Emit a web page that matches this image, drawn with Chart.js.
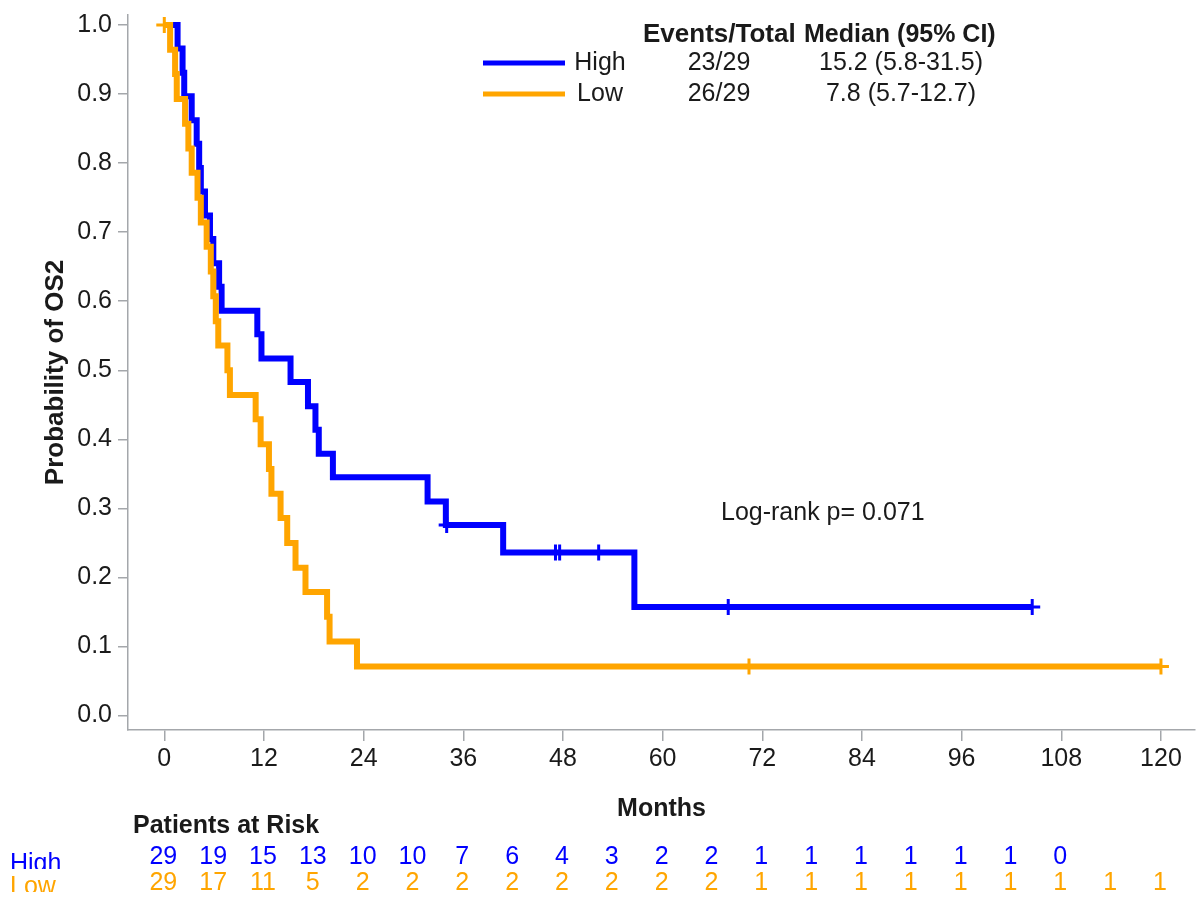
<!DOCTYPE html>
<html>
<head>
<meta charset="utf-8">
<title>Overall survival (OS2) by group</title>
<script src="https://cdn.jsdelivr.net/npm/chart.js@4.4.1/dist/chart.umd.min.js"></script>
<style>
  html, body { margin: 0; padding: 0; background: #ffffff; }
  #wrap { width: 1198px; height: 897px; position: relative; }
</style>
</head>
<body>
<div id="wrap"><canvas id="km"></canvas></div>
<script>
// Kaplan-Meier step points: time (months) and survival probability after each step
const highTimes = [0, 1.6, 2.2, 2.4, 3.3, 3.9, 4.2, 4.4, 4.9, 5.5, 5.9, 6.6, 6.9, 11.2, 11.7, 15.2, 17.3, 18.2, 18.6, 20.3, 31.7, 33.9, 40.8, 56.6, 104.5];
const highSurv  = [1.0, 0.966, 0.931, 0.897, 0.862, 0.828, 0.793, 0.759, 0.724, 0.690, 0.655, 0.621, 0.586, 0.552, 0.517, 0.483, 0.448, 0.414, 0.379, 0.345, 0.310, 0.276, 0.236, 0.157, 0.157];

const lowTimes = [0, 0.7, 1.3, 1.5, 2.5, 2.9, 3.3, 4.0, 4.4, 5.1, 5.6, 5.9, 6.2, 6.5, 7.6, 7.9, 11.0, 11.6, 12.6, 12.9, 14.0, 14.8, 15.8, 17.0, 19.6, 19.9, 23.2, 120.0];
const lowSurv  = [1.0, 0.964, 0.929, 0.893, 0.857, 0.821, 0.786, 0.750, 0.714, 0.679, 0.643, 0.607, 0.571, 0.536, 0.500, 0.464, 0.429, 0.393, 0.357, 0.321, 0.286, 0.250, 0.214, 0.179, 0.143, 0.107, 0.071, 0.071];

// Censored observations (+ marks)
const highCensorTimes = [34.0, 47.1, 47.6, 52.3, 67.9, 104.5];
const highCensorSurv  = [0.276, 0.236, 0.236, 0.236, 0.157, 0.157];
const lowCensorTimes  = [0, 70.4, 120.0];
const lowCensorSurv   = [1.0, 0.071, 0.071];

// Axis ticks
const xTicks = [0, 12, 24, 36, 48, 60, 72, 84, 96, 108, 120];
const yTicks = [0, 0.1, 0.2, 0.3, 0.4, 0.5, 0.6, 0.7, 0.8, 0.9, 1.0];

// Number at risk every 6 months
const riskTimes = [0, 6, 12, 18, 24, 30, 36, 42, 48, 54, 60, 66, 72, 78, 84, 90, 96, 102, 108, 114, 120];
const riskHigh  = [29, 19, 15, 13, 10, 10, 7, 6, 4, 3, 2, 2, 1, 1, 1, 1, 1, 1, 0];
const riskLow   = [29, 17, 11, 5, 2, 2, 2, 2, 2, 2, 2, 2, 1, 1, 1, 1, 1, 1, 1, 1, 1];

// Summary table
const groups      = ['High', 'Low'];
const eventsTotal = ['23/29', '26/29'];
const medians     = ['15.2 (5.8-31.5)', '7.8 (5.7-12.7)'];
const logRankText = 'Log-rank p= 0.071';

const FONT = "'Liberation Sans', Arial, Helvetica, sans-serif";
const BLUE = '#0000ff';
const ORANGE = '#ffa500';
const AXIS_GREY = '#a4a7ab';
const TEXT = '#1a1a1a';

const toPoints = (xs, ys) => xs.map((x, i) => ({ x: x, y: ys[i] }));

// Summary legend, log-rank note and number-at-risk table
const kmText = {
  id: 'kmText',
  afterDraw(chart) {
    const ctx = chart.ctx;
    const xs = chart.scales.x;
    ctx.save();
    ctx.textBaseline = 'middle';

    // legend header
    ctx.fillStyle = TEXT;
    ctx.font = `bold 26px ${FONT}`;
    ctx.textAlign = 'left';
    ctx.fillText('Events/Total', 643, 35);
    ctx.font = `bold 25px ${FONT}`;
    ctx.fillText('Median (95% CI)', 804, 35);

    const colors = [BLUE, ORANGE];
    const rowY = [63, 94];
    ctx.font = `25px ${FONT}`;
    for (let i = 0; i < groups.length; i++) {
      ctx.strokeStyle = colors[i];
      ctx.lineWidth = 5;
      ctx.beginPath();
      ctx.moveTo(483, rowY[i]);
      ctx.lineTo(565, rowY[i]);
      ctx.stroke();
      ctx.fillStyle = TEXT;
      ctx.textAlign = 'center';
      ctx.fillText(groups[i], 600, rowY[i]);
      ctx.fillText(eventsTotal[i], 719, rowY[i]);
      ctx.fillText(medians[i], 901, rowY[i]);
    }

    // log-rank p value
    ctx.textAlign = 'left';
    ctx.fillText(logRankText, 721, 513);

    // number at risk
    ctx.font = `bold 25px ${FONT}`;
    ctx.fillText('Patients at Risk', 133, 826);

    const riskRows = [riskHigh, riskLow];
    const numY = [857, 883];
    const labelBase = [871, 894];
    const clipBottom = [869, 892];
    for (let i = 0; i < riskRows.length; i++) {
      ctx.fillStyle = colors[i];
      ctx.font = `25px ${FONT}`;
      ctx.textAlign = 'center';
      ctx.textBaseline = 'middle';
      riskRows[i].forEach((n, j) => {
        ctx.fillText(String(n), xs.getPixelForValue(riskTimes[j]) - 1, numY[i]);
      });
      ctx.save();
      ctx.beginPath();
      ctx.rect(0, numY[i] - 20, 120, clipBottom[i] - (numY[i] - 20));
      ctx.clip();
      ctx.textAlign = 'left';
      ctx.textBaseline = 'alphabetic';
      ctx.fillText(groups[i], 10, labelBase[i]);
      ctx.restore();
    }
    ctx.restore();
  }
};

new Chart(document.getElementById('km'), {
  type: 'line',
  data: {
    datasets: [
      {
        label: 'Low',
        data: toPoints(lowTimes, lowSurv),
        stepped: 'before',
        borderColor: ORANGE,
        borderWidth: 6,
        borderJoinStyle: 'miter',
        borderCapStyle: 'butt',
        pointRadius: 0,
        fill: false,
        order: 1
      },
      {
        label: 'High',
        data: toPoints(highTimes, highSurv),
        stepped: 'before',
        borderColor: BLUE,
        borderWidth: 6,
        borderJoinStyle: 'miter',
        borderCapStyle: 'butt',
        pointRadius: 0,
        fill: false,
        order: 2
      },
      {
        label: 'Low censored',
        data: toPoints(lowCensorTimes, lowCensorSurv),
        showLine: false,
        pointStyle: 'cross',
        pointRadius: 8,
        pointBorderWidth: 3,
        pointBorderColor: ORANGE,
        borderColor: ORANGE,
        order: 0
      },
      {
        label: 'High censored',
        data: toPoints(highCensorTimes, highCensorSurv),
        showLine: false,
        pointStyle: 'cross',
        pointRadius: 8,
        pointBorderWidth: 3,
        pointBorderColor: BLUE,
        borderColor: BLUE,
        order: 0
      }
    ]
  },
  options: {
    responsive: true,
    maintainAspectRatio: false,
    devicePixelRatio: 1,
    animation: false,
    events: [],
    layout: { autoPadding: false, padding: { top: 15, right: 3, left: 0, bottom: 0 } },
    plugins: {
      legend: { display: false },
      tooltip: { enabled: false }
    },
    scales: {
      x: {
        type: 'linear',
        min: -4.37,
        max: 124.1,
        afterBuildTicks: (s) => { s.ticks = xTicks.map(v => ({ value: v })); },
        afterFit: (s) => { s.height = 167; s.paddingLeft = 0; s.paddingRight = 0; },
        ticks: {
          color: TEXT,
          font: { family: FONT, size: 25 },
          padding: 3,
          maxRotation: 0,
          autoSkip: false
        },
        grid: { drawOnChartArea: false, drawTicks: true, tickLength: 11, color: AXIS_GREY, lineWidth: 1.5 },
        border: { display: true, color: AXIS_GREY, width: 1.5 },
        title: {
          display: true,
          text: 'Months',
          color: TEXT,
          font: { family: FONT, size: 25, weight: 'bold' },
          padding: { top: 0, bottom: 73 }
        }
      },
      y: {
        type: 'linear',
        min: -0.021,
        max: 1.0145,
        afterBuildTicks: (s) => { s.ticks = yTicks.map(v => ({ value: v })); },
        afterFit: (s) => { s.width = 128; s.paddingTop = 0; s.paddingBottom = 0; },
        ticks: {
          color: TEXT,
          font: { family: FONT, size: 25 },
          padding: 6,
          callback: (v) => Number(v).toFixed(1)
        },
        grid: { drawOnChartArea: false, drawTicks: true, tickLength: 10, color: AXIS_GREY, lineWidth: 1.5 },
        border: { display: true, color: AXIS_GREY, width: 1.5 },
        title: {
          display: true,
          text: 'Probability of OS2',
          color: TEXT,
          font: { family: FONT, size: 26, weight: 'bold' },
          padding: { top: 40, bottom: 0 }
        }
      }
    }
  },
  plugins: [kmText]
});
</script>
</body>
</html>
